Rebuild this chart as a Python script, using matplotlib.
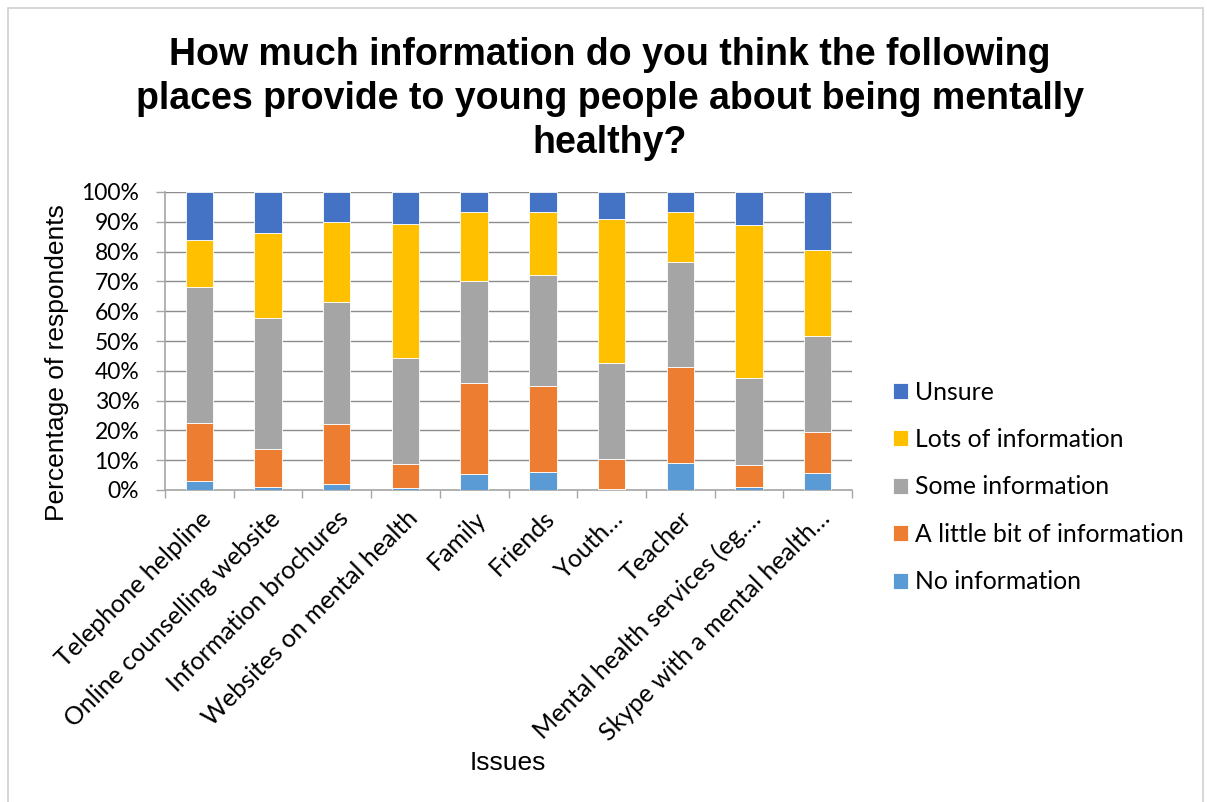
import numpy as np
import matplotlib
matplotlib.use('Agg')
import matplotlib.pyplot as plt
from matplotlib.patches import Rectangle

# categories and stacked shares (%)
places = ['Telephone helpline', 'Online counselling website', 'Information brochures',
          'Websites on mental health', 'Family', 'Friends', 'Youth\u2026', 'Teacher',
          'Mental health services (eg.\u2026', 'Skype with a mental health\u2026']

no_info = [3.1, 0.9, 2.1, 0.6, 5.4, 6.0, 0.4, 8.9, 1.0, 5.6]
little_info = [19.5, 13.0, 20.2, 8.2, 30.4, 28.9, 10.1, 32.5, 7.3, 14.0]
some_info = [45.6, 43.9, 40.7, 35.6, 34.3, 37.2, 32.2, 35.0, 29.4, 32.2]
lots_info = [15.7, 28.3, 26.9, 45.0, 23.3, 21.3, 48.4, 17.0, 51.2, 28.6]
unsure = [16.1, 13.9, 10.1, 10.6, 6.6, 6.6, 8.9, 6.6, 11.1, 19.6]

series = [
    ('No information', no_info, '#5B9BD5'),
    ('A little bit of information', little_info, '#ED7D31'),
    ('Some information', some_info, '#A5A5A5'),
    ('Lots of information', lots_info, '#FFC000'),
    ('Unsure', unsure, '#4472C4'),
]

W, H = 1207, 802
fig = plt.figure(figsize=(W / 100, H / 100), dpi=100)
ax = fig.add_axes([165 / W, 1 - 490 / H, (852 - 165) / W, (490 - 192) / H])

x = np.arange(len(places))
bottom = np.zeros(len(places))
handles = []
for name, vals, col in series:
    b = ax.bar(x, vals, bottom=bottom, width=0.40, color=col, edgecolor='white',
               linewidth=0.6, label=name, zorder=3)
    handles.append(b)
    bottom += np.array(vals)

ax.set_xlim(-0.5, len(places) - 0.5)
ax.set_ylim(0, 100)
ax.set_yticks(np.arange(0, 101, 10))
ax.set_yticklabels([f'{v}%' for v in range(0, 101, 10)], family='Lato', fontsize=16.5)
ax.yaxis.grid(True, color='#8c8c8c', linewidth=1, zorder=0)
ax.tick_params(axis='y', length=6.5, width=1, color='#a6a6a6', pad=12)

ax.set_xticks(x)
ax.set_xticklabels(places, rotation=45, ha='right', rotation_mode='anchor',
                   family='Lato', fontsize=18)
ax.set_xticks(np.arange(-0.5, len(places), 1), minor=True)
ax.tick_params(axis='x', which='major', length=0, pad=12)
ax.tick_params(axis='x', which='minor', length=6, color='#a6a6a6', width=1)

for s in ['top', 'right']:
    ax.spines[s].set_visible(False)
for s in ['left', 'bottom']:
    ax.spines[s].set_color('#a6a6a6')
    ax.spines[s].set_linewidth(1.2)

fig.text(57 / W, 1 - 363 / H, 'Percentage of respondents', family='Liberation Sans',
         fontsize=19, rotation=90, ha='center', va='center')
fig.text(508 / W, 1 - 763 / H, 'Issues', family='Liberation Sans', fontsize=19,
         ha='center', va='center')

fig.text(610 / W, 1 - 99 / H,
         'How much information do you think the following\n'
         'places provide to young people about being mentally\n'
         'healthy?',
         family='Liberation Sans', fontweight='bold', fontsize=27,
         ha='center', va='center', linespacing=1.3)

leg = fig.legend(handles[::-1], [s[0] for s in series][::-1],
                 loc='center left', bbox_to_anchor=(893 / W, 1 - 487 / H),
                 frameon=False, prop={'family': 'Lato', 'size': 17.8},
                 handlelength=0.61, handleheight=0.61, handletextpad=0.3,
                 labelspacing=0.99, borderpad=0, borderaxespad=0)

fig.add_artist(Rectangle((8 / W, -0.01), (1203 - 8) / W, 1 - 8 / H + 0.01,
                         transform=fig.transFigure, fill=False,
                         edgecolor='#d0d0d0', linewidth=1.2))

fig.savefig('out.png', dpi=100)
